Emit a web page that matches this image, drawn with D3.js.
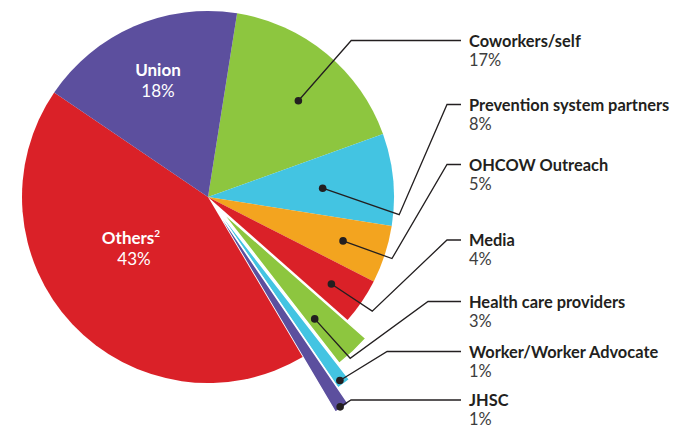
<!DOCTYPE html>
<html>
<head>
<meta charset="utf-8">
<script src="https://cdn.jsdelivr.net/npm/d3@7"></script>
<style>
  html, body { margin: 0; padding: 0; background: #ffffff; }
  svg { display: block; }
</style>
</head>
<body>
<svg id="chart" width="674" height="427"></svg>
<script>
// Sources of information (share of respondents, %)
const categories = [
  "Coworkers/self",
  "Prevention system partners",
  "OHCOW Outreach",
  "Media",
  "Health care providers",
  "Worker/Worker Advocate",
  "JHSC",
  "Others",
  "Union"
];
const values = [17, 8, 5, 4, 3, 1, 1, 43, 18];
const percentLabels = ["17%", "8%", "5%", "4%", "3%", "1%", "1%", "43%", "18%"];
const colors = ["#8dc63f", "#43c4e2", "#f3a41f", "#da2128", "#8dc63f", "#43c4e2", "#5c4f9e", "#da2128", "#5c4f9e"];

// Layout
const W = 674, H = 427;
const cx = 208, cy = 197, R = 186;
const startDeg = 9;

// Per-slice drawing tweaks: outward offset and outer radius
const sliceStyle = {
  "Health care providers": { explode: 19, outer: 193 },
  "Worker/Worker Advocate": { explode: 5, outer: 226 },
  "JHSC": { explode: 5, outer: 245 }
};

// Callouts on the right: label baseline, dot radius / angle shift, bend point (polar), join x
const labelX = 469;
const callouts = {
  "Coworkers/self":            { y: 46.5, dotR: 132, dotShift: 3.6, bend: [212, 42.5], joinX: null },
  "Prevention system partners":{ y: 110.5, dotR: 115, dotShift: 1, bend: [192, 95.3], joinX: 447 },
  "OHCOW Outreach":            { y: 170.5, dotR: 142, dotShift: 0, bend: [194, 108.5], joinX: 447 },
  "Media":                     { y: 246, dotR: 151, dotShift: 1, bend: [200, 124.8], joinX: 447 },
  "Health care providers":     { y: 307.5, dotR: 162, dotShift: 2, bend: [215, 138.6], joinX: 428 },
  "Worker/Worker Advocate":    { y: 357.5, dotR: 226, dotShift: 0.3, bend: [237, 130.9], joinX: null },
  "JHSC":                      { y: 406, dotR: 248, dotShift: 0.2, bend: [250, 145.1], joinX: null }
};
const lineEndX = 461;

const svg = d3.select("#chart");
const rad = d => d * Math.PI / 180;
const polar = (r, deg) => [cx + r * Math.sin(rad(deg)), cy - r * Math.cos(rad(deg))];

const data = categories.map((c, i) => ({ name: c, value: values[i], pct: percentLabels[i], color: colors[i] }));

const pie = d3.pie()
  .sort(null)
  .value(d => d.value)
  .startAngle(rad(startDeg))
  .endAngle(rad(startDeg + 360));
const arcs = pie(data);

const g = svg.append("g").attr("transform", `translate(${cx},${cy})`);

g.selectAll("path.slice")
  .data(arcs)
  .join("path")
  .attr("class", "slice")
  .attr("fill", d => d.data.color)
  .attr("stroke", d => sliceStyle[d.data.name] ? "#ffffff" : "none")
  .attr("stroke-width", 1.4)
  .attr("transform", d => {
    const s = sliceStyle[d.data.name];
    if (!s) return null;
    const mid = (d.startAngle + d.endAngle) / 2;
    return `translate(${s.explode * Math.sin(mid)},${-s.explode * Math.cos(mid)})`;
  })
  .attr("d", d => {
    const s = sliceStyle[d.data.name];
    return d3.arc().innerRadius(0).outerRadius(s ? s.outer : R)(d);
  });

// Callout leaders and labels
const lineColor = "#231f20";
const fontFamily = "Lato, 'Open Sans', sans-serif";
arcs.forEach(d => {
  const c = callouts[d.data.name];
  if (!c) return;
  const midDeg = ((d.startAngle + d.endAngle) / 2) * 180 / Math.PI + c.dotShift;
  const dot = polar(c.dotR, midDeg);
  const bend = polar(c.bend[0], c.bend[1]);
  const ly = c.y - 6;
  const pts = [dot, bend];
  if (c.joinX !== null) pts.push([c.joinX, ly]);
  else pts[1] = [bend[0], ly];
  pts.push([lineEndX, ly]);
  svg.append("path")
    .attr("d", d3.line()(pts))
    .attr("fill", "none")
    .attr("stroke", lineColor)
    .attr("stroke-width", 1.3)
    .attr("stroke-linejoin", "miter");
  svg.append("circle")
    .attr("cx", dot[0]).attr("cy", dot[1]).attr("r", 3.8)
    .attr("fill", lineColor);
  svg.append("text")
    .attr("x", labelX).attr("y", c.y)
    .attr("font-family", fontFamily)
    .attr("font-weight", 700)
    .attr("font-size", 16.4)
    .attr("fill", lineColor)
    .text(d.data.name);
  svg.append("text")
    .attr("x", labelX).attr("y", c.y + 19)
    .attr("font-family", fontFamily)
    .attr("font-size", 16.4)
    .attr("fill", "#3d3d3d")
    .text(d.data.pct);
});

// Labels inside the two large slices
const inside = {
  "Union": { pos: [158, 75.5] },
  "Others": { pos: [131, 243.5], sup: "2" }
};
arcs.forEach(d => {
  const lab = inside[d.data.name];
  if (!lab) return;
  const t = svg.append("text")
    .attr("x", lab.pos[0]).attr("y", lab.pos[1])
    .attr("text-anchor", "middle")
    .attr("font-family", fontFamily)
    .attr("font-weight", 700)
    .attr("font-size", 17)
    .attr("fill", "#ffffff");
  t.append("tspan").text(d.data.name);
  if (lab.sup) {
    t.append("tspan").attr("font-size", 10).attr("dy", -7).text(lab.sup);
  }
  svg.append("text")
    .attr("x", lab.pos[0] + (lab.sup ? 3 : 0)).attr("y", lab.pos[1] + 21)
    .attr("text-anchor", "middle")
    .attr("font-family", fontFamily)
    .attr("font-size", 17)
    .attr("fill", "#ffffff")
    .text(d.data.pct);
});
</script>
</body>
</html>
